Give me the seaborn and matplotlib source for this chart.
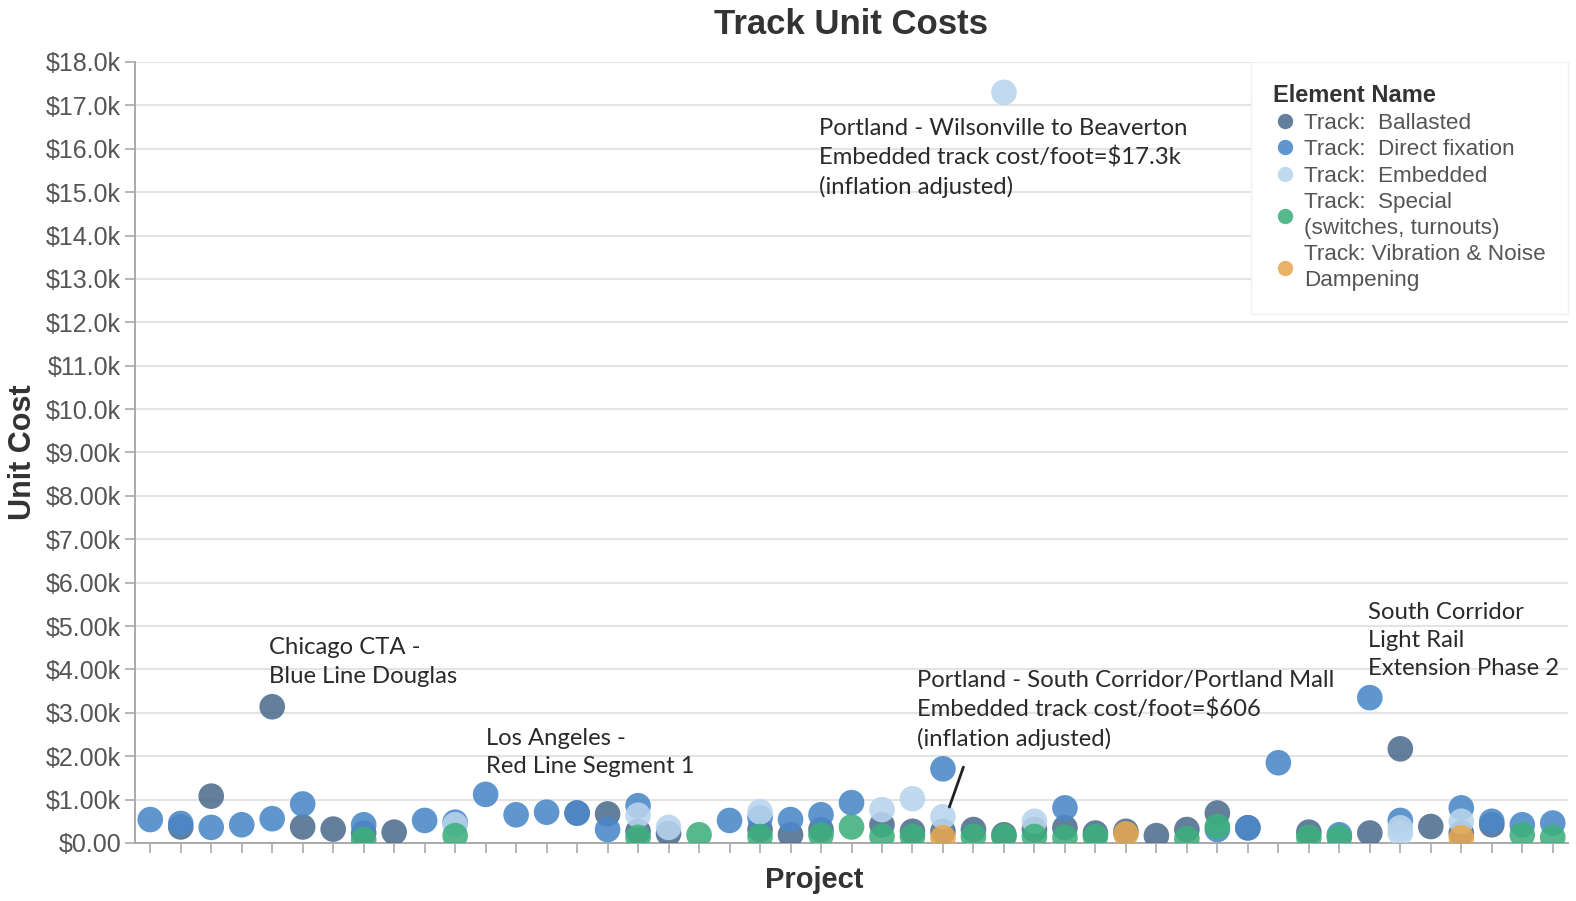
import matplotlib
matplotlib.use("Agg")
import matplotlib.pyplot as plt
import seaborn as sns
import pandas as pd

# ---------------- data ----------------
projects = list(range(47))

element_names = [
    "Track:  Ballasted",
    "Track:  Direct fixation",
    "Track:  Embedded",
    "Track:  Special (switches, turnouts)",
    "Track: Vibration & Noise Dampening",
]
legend_labels = [
    "Track:  Ballasted",
    "Track:  Direct fixation",
    "Track:  Embedded",
    "Track:  Special\n(switches, turnouts)",
    "Track: Vibration & Noise\nDampening",
]
colors = ["#4E6D8E", "#4A88C8", "#B9D4EC", "#3DB07C", "#E6A850"]

ballasted_project = [1, 2, 4, 5, 6, 7, 8, 14, 15, 16, 17, 20, 21, 22, 24, 25, 26, 27, 28, 29,
                     30, 31, 32, 33, 34, 35, 36, 38, 40, 41, 42, 43, 44]
ballasted_cost = [370, 1080, 3140, 370, 320, 230, 250, 690, 670, 270, 220, 310, 190, 310, 420,
                  270, 270, 310, 190, 310, 350, 230, 270, 170, 310, 690, 350, 250, 230, 2170,
                  380, 230, 420]

direct_project = [0, 1, 2, 3, 4, 5, 7, 9, 10, 11, 12, 13, 14, 15, 16, 19, 20, 21, 22, 23, 26,
                  30, 35, 36, 37, 39, 40, 41, 43, 44, 45, 46]
direct_cost = [540, 450, 360, 420, 560, 900, 420, 520, 480, 1120, 650, 710, 690, 310, 860, 520,
               580, 540, 650, 930, 1710, 810, 310, 350, 1850, 190, 3350, 520, 810, 500, 420, 460]

embedded_project = [10, 16, 17, 20, 24, 25, 26, 28, 29, 41, 41, 43]
embedded_cost = [420, 640, 360, 720, 770, 1020, 606, 17300, 500, 350, 230, 500]

special_project = [7, 10, 16, 18, 20, 22, 23, 24, 25, 27, 28, 29, 30, 31, 34, 35, 38, 39, 45, 46]
special_cost = [80, 170, 130, 190, 150, 180, 370, 150, 150, 150, 150, 150, 130, 150, 100, 380,
                130, 130, 190, 130]

vibration_project = [26, 32, 43]
vibration_cost = [120, 210, 120]

y_ticks = [0, 1000, 2000, 3000, 4000, 5000, 6000, 7000, 8000, 9000, 10000, 11000, 12000,
           13000, 14000, 15000, 16000, 17000, 18000]
y_tick_labels = ["$0.00", "$1.00k", "$2.00k", "$3.00k", "$4.00k", "$5.00k", "$6.00k", "$7.00k",
                 "$8.00k", "$9.00k", "$10.0k", "$11.0k", "$12.0k", "$13.0k", "$14.0k", "$15.0k",
                 "$16.0k", "$17.0k", "$18.0k"]

# ---------------- frame ----------------
series = [
    (element_names[0], ballasted_project, ballasted_cost),
    (element_names[1], direct_project, direct_cost),
    (element_names[2], embedded_project, embedded_cost),
    (element_names[3], special_project, special_cost),
    (element_names[4], vibration_project, vibration_cost),
]
rows = []
for name, xs, ys in series:
    for x, y in zip(xs, ys):
        rows.append({"Project": x, "Unit Cost": y, "Element Name": name})
df = pd.DataFrame(rows)

# ---------------- plot ----------------
sns.set_theme(style="white")
plt.rcParams["font.family"] = ["Liberation Sans", "DejaVu Sans"]

fig = plt.figure(figsize=(15.76, 9.01), dpi=100)
ax = fig.add_axes([135 / 1576, 1 - 843 / 901, (1568 - 135) / 1576, (843 - 62) / 901])

sns.scatterplot(
    data=df, x="Project", y="Unit Cost", hue="Element Name",
    hue_order=element_names, palette=colors, s=340, alpha=0.88,
    edgecolor="none", linewidth=0, ax=ax, legend="full", zorder=3,
)

ax.set_xlim(-0.5, 46.5)
ax.set_ylim(0, 18000)
ax.set_xticks(projects)
ax.set_xticklabels([])
ax.set_yticks(y_ticks)
ax.set_yticklabels(y_tick_labels, fontsize=18, color="#555555")
ax.tick_params(axis="both", which="both", length=7, width=1.2, color="#aaaaaa",
               bottom=True, left=True, pad=3)
ax.yaxis.grid(True, color="#e4e4e4", linewidth=1.5, zorder=0)
ax.xaxis.grid(False)
ax.set_axisbelow(True)
for side in ["top", "right"]:
    ax.spines[side].set_visible(False)
for side in ["left", "bottom"]:
    ax.spines[side].set_color("#aaaaaa")
    ax.spines[side].set_linewidth(1.4)

ax.set_xlabel("Project", fontsize=21, fontweight="bold", color="#333333")
ax.xaxis.set_label_coords(0.474, -0.047)
ax.xaxis.label.set_va("center")
ax.set_ylabel("Unit Cost", fontsize=22, fontweight="bold", color="#333333", labelpad=6)
fig.suptitle("Track Unit Costs", x=851 / 1576, y=1 - 25 / 901, va="center",
             fontsize=25, fontweight="bold", color="#333333")

# legend
handles, _ = ax.get_legend_handles_labels()
leg = ax.legend(handles[:5], legend_labels, title="Element Name", loc="upper right",
                bbox_to_anchor=(1.0, 1.0), borderaxespad=0, frameon=True, fancybox=False,
                framealpha=1, edgecolor="#f0f0f0", fontsize=16.2, title_fontsize=17,
                markerscale=0.6, handletextpad=0.35, labelspacing=0.24, alignment="left",
                borderpad=1.0, handlelength=1.0)
leg.get_title().set_fontweight("bold")
leg.get_title().set_color("#333333")
for t in leg.get_texts():
    t.set_color("#555555")
    t.set_linespacing(1.3)
leg.set_zorder(5)

# annotations
ann_font = ["Lato", "DejaVu Sans"]
ann = dict(fontsize=17.2, color="#2a2a2a", family=ann_font, va="center", ha="left",
           linespacing=1.42, zorder=6)
ax.text(21.95, 15780, "Portland - Wilsonville to Beaverton\nEmbedded track cost/foot=$17.3k\n(inflation adjusted)", **ann)
ax.text(3.9, 4170, "Chicago CTA -\nBlue Line Douglas", **ann)
ax.text(11.02, 2080, "Los Angeles -\nRed Line Segment 1", **ann)
ax.text(25.16, 3070, "Portland - South Corridor/Portland Mall\nEmbedded track cost/foot=$606\n(inflation adjusted)", **ann)
ax.text(39.93, 4660, "South Corridor\nLight Rail\nExtension Phase 2", **ann)
ax.plot([26.67, 26.21], [1750, 830], color="#222222", linewidth=2, zorder=6)

fig.savefig("out.png", dpi=100)
